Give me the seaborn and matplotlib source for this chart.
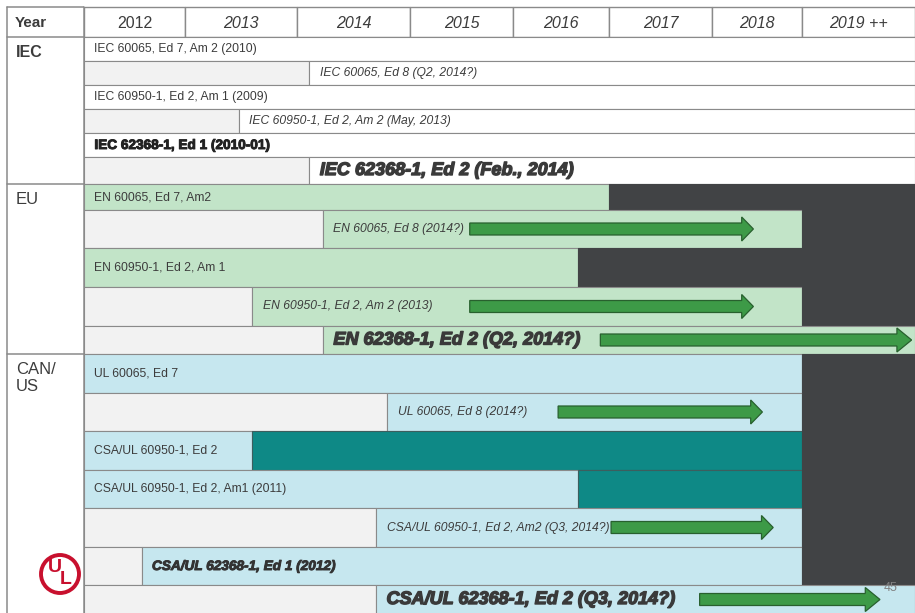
import numpy as np
import matplotlib
matplotlib.use("Agg")
import matplotlib.pyplot as plt
import matplotlib.patches as mpatches
import matplotlib.patheffects as pe
import seaborn as sns

# -----------------------------
# Data
# -----------------------------
YEARS = [2012, 2013, 2014, 2015, 2016, 2017, 2018, 2019]
YEAR_LABELS = ["2012", "2013", "2014", "2015", "2016", "2017", "2018", "2019 ++"]
TIMELINE_END = 2020

SECTION_NAMES = ["IEC", "EU", "CAN/\nUS"]

IEC_LABELS = ["IEC 60065, Ed 7, Am 2 (2010)", "IEC 60065, Ed 8 (Q2, 2014?)",
              "IEC 60950-1, Ed 2, Am 1 (2009)", "IEC 60950-1, Ed 2, Am 2 (May, 2013)",
              "IEC 62368-1, Ed 1 (2010-01)", "IEC 62368-1, Ed 2 (Feb., 2014)"]
IEC_START = [2012, 2014.11, 2012, 2013.48, 2012, 2014.11]
IEC_SWITCH = [None, None, None, None, None, None]
IEC_END = [2020, 2020, 2020, 2020, 2020, 2020]
IEC_ARROW_FROM = [None, None, None, None, None, None]
IEC_ARROW_TO = [None, None, None, None, None, None]

EU_LABELS = ["EN 60065, Ed 7, Am2", "EN 60065, Ed 8 (2014?)", "EN 60950-1, Ed 2, Am 1",
             "EN 60950-1, Ed 2, Am 2 (2013)", "EN 62368-1, Ed 2 (Q2, 2014?)"]
EU_START = [2012, 2014.23, 2012, 2013.60, 2014.23]
EU_SWITCH = [None, None, None, None, None]
EU_END = [2017.0, 2019.0, 2016.68, 2019.0, 2020]
EU_ARROW_FROM = [None, 2015.58, None, 2015.58, 2016.91]
EU_ARROW_TO = [None, 2018.46, None, 2018.46, 2019.97]

US_LABELS = ["UL 60065, Ed 7", "UL 60065, Ed 8 (2014?)", "CSA/UL 60950-1, Ed 2",
             "CSA/UL 60950-1, Ed 2, Am1 (2011)", "CSA/UL 60950-1, Ed 2, Am2 (Q3, 2014?)",
             "CSA/UL 62368-1, Ed 1 (2012)", "CSA/UL 62368-1, Ed 2 (Q3, 2014?)"]
US_START = [2012, 2014.80, 2012, 2012, 2014.70, 2012.57, 2014.70]
US_SWITCH = [None, None, 2013.60, 2016.68, None, None, None]
US_END = [2019.0, 2019.0, 2019.0, 2019.0, 2019.0, 2019.0, 2020]
US_ARROW_FROM = [None, 2016.47, None, None, 2017.02, None, 2017.88]
US_ARROW_TO = [None, 2018.56, None, None, 2018.68, None, 2019.69]

# -----------------------------
# Layout / styles
# -----------------------------
COL_PX = [101, 112, 113, 103, 96, 103, 90, 113]   # header column widths
HEADER_TOP, HEADER_H = 7, 30
ROW_PX = [[24, 24, 24, 24, 24, 27],
          [26, 38, 39, 39, 28],
          [39, 38, 39, 38, 39, 38, 29]]
IEC_STYLE = ["normal", "italic", "normal", "italic", "bold", "big"]
EU_STYLE = ["normal", "italic", "normal", "italic", "big"]
US_STYLE = ["normal", "italic", "normal", "normal", "italic", "bolditalic", "big"]

SECTION_COLORS = ["#ffffff", "#c2e4c8", "#c6e7ef"]
NOT_YET = "#f2f2f2"
TEAL = "#0e8986"
DARK = "#414345"
EDGE = "#8a8a8a"
TXT = "#3c3c3c"

sns.set_theme(style="white")
plt.rcParams["font.family"] = ["Liberation Sans", "DejaVu Sans"]

fig = plt.figure(figsize=(9.15, 6.13), dpi=100)
ax = fig.add_axes([84 / 915, 0, 1 - 84 / 915, 1])
ax0 = fig.add_axes([0, 0, 84 / 915, 1])

edges_year = np.arange(YEARS[0], TIMELINE_END + 1)
edges_px = np.concatenate([[0], np.cumsum(COL_PX)])


def fwd(x):
    return np.interp(x, edges_year, edges_px)


def inv(p):
    return np.interp(p, edges_px, edges_year)


ax.set_xscale("function", functions=(fwd, inv))
ax.set_xlim(YEARS[0], TIMELINE_END)
ax.set_ylim(613, 0)
ax.axis("off")
ax0.set_xlim(0, 84)
ax0.set_ylim(613, 0)
ax0.axis("off")

# -----------------------------
# Header
# -----------------------------
hy = HEADER_TOP + HEADER_H / 2
ax.barh(hy, 1, left=YEARS, height=HEADER_H, color="white", edgecolor=EDGE, linewidth=1.0)
for i, (yr, lab) in enumerate(zip(YEARS, YEAR_LABELS)):
    ax.text(yr + 0.5, hy + 1, lab, ha="center", va="center", fontsize=11.5,
            color=TXT, fontstyle="normal" if i == 0 else "italic")

# -----------------------------
# Rows
# -----------------------------
sections = [
    (IEC_LABELS, IEC_START, IEC_SWITCH, IEC_END, IEC_ARROW_FROM, IEC_ARROW_TO, IEC_STYLE),
    (EU_LABELS, EU_START, EU_SWITCH, EU_END, EU_ARROW_FROM, EU_ARROW_TO, EU_STYLE),
    (US_LABELS, US_START, US_SWITCH, US_END, US_ARROW_FROM, US_ARROW_TO, US_STYLE),
]

text_kw = {
    "normal": dict(fontsize=8.7, color=TXT),
    "italic": dict(fontsize=8.7, color=TXT, fontstyle="italic"),
    "bold": dict(fontsize=9.8, color="#222222", fontweight="bold",
                 path_effects=[pe.withStroke(linewidth=0.7, foreground="#222222")]),
    "bolditalic": dict(fontsize=9.8, color="#333333", fontweight="bold", fontstyle="italic",
                       path_effects=[pe.withStroke(linewidth=0.7, foreground="#333333")]),
    "big": dict(fontsize=13, color="#3a3a3a", fontweight="bold", fontstyle="italic",
                path_effects=[pe.withStroke(linewidth=1.0, foreground="#3a3a3a")]),
}

y = HEADER_TOP + HEADER_H
section_tops = []
for s, (labels, start, switch, end, a_from, a_to, styles) in enumerate(sections):
    section_tops.append(y)
    color = SECTION_COLORS[s]
    for i, lab in enumerate(labels):
        h = ROW_PX[s][i]
        ym = y + h / 2
        if start[i] > YEARS[0]:
            ax.barh(ym, start[i] - YEARS[0], left=YEARS[0], height=h,
                    color=NOT_YET, edgecolor=EDGE, linewidth=0.8)
        main_end = switch[i] if switch[i] is not None else end[i]
        ax.barh(ym, main_end - start[i], left=start[i], height=h,
                color=color, edgecolor=EDGE, linewidth=0.8)
        if switch[i] is not None:
            ax.barh(ym, end[i] - switch[i], left=switch[i], height=h,
                    color=TEAL, edgecolor="#3d5e5e", linewidth=0.8)
        if end[i] < TIMELINE_END:
            ax.barh(ym, TIMELINE_END - end[i], left=end[i], height=h,
                    color=DARK, edgecolor=DARK, linewidth=0.8)
        if a_from[i] is not None:
            ax.add_patch(mpatches.FancyArrow(
                a_from[i], ym, a_to[i] - a_from[i], 0, width=12, head_width=24,
                head_length=0.13, length_includes_head=True,
                facecolor="#3d9a47", edgecolor="#28602e", linewidth=0.9))
        ax.annotate(lab, xy=(start[i], ym), xytext=(7.5, 0), textcoords="offset points",
                    ha="left", va="center", **text_kw[styles[i]])
        y += h
section_tops.append(y)

ax.text(2019.72, 588, "45", fontsize=9, color="#808080", ha="left", va="center")

# -----------------------------
# Left label column
# -----------------------------
lw = 1.1
ax0.plot([7, 7], [HEADER_TOP, 613], color=EDGE, lw=lw)
ax0.plot([84, 84], [HEADER_TOP, 613], color=EDGE, lw=lw, clip_on=False)
ax0.plot([7, 84], [HEADER_TOP, HEADER_TOP], color=EDGE, lw=lw)
ax0.plot([7, 84], [HEADER_TOP + HEADER_H] * 2, color=EDGE, lw=lw)
for t in section_tops[1:-1]:
    ax0.plot([7, 84], [t, t], color=EDGE, lw=lw)

ax0.text(15, hy + 1, "Year", fontsize=11, fontweight="bold", color=TXT, va="center")
ax0.text(16, section_tops[0] + 8, SECTION_NAMES[0], fontsize=11.5, fontweight="bold",
         color=TXT, va="top")
for s in (1, 2):
    ax0.text(16, section_tops[s] + 8, SECTION_NAMES[s], fontsize=12, color=TXT,
             va="top", linespacing=1.15)

# UL logo
ax0.add_patch(mpatches.Circle((60, 574), 19, fill=False, edgecolor="#c8102e", lw=2.8))
ax0.text(55, 568, "U", fontsize=14, fontweight="bold", color="#c8102e",
         ha="center", va="center")
ax0.text(66, 580, "L", fontsize=14, fontweight="bold", color="#c8102e",
         ha="center", va="center")

fig.savefig("out.png", dpi=100)
